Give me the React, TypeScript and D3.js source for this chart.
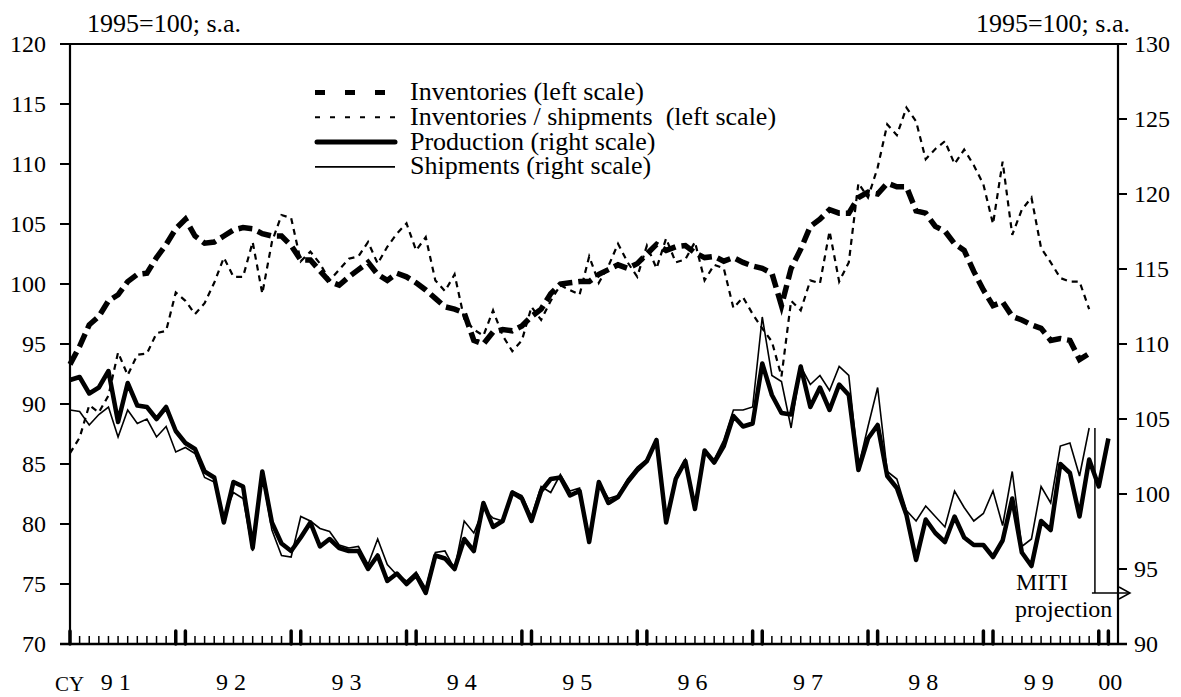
import React from "react";
import * as d3 from "d3";

const W = 1181;
const H = 697;

// Monthly data, Jan 1991 onwards (index 0 = first month)
const yearLabels = ["9 1", "9 2", "9 3", "9 4", "9 5", "9 6", "9 7", "9 8", "9 9", "00"];
const leftTicks = [70, 75, 80, 85, 90, 95, 100, 105, 110, 115, 120];
const rightTicks = [90, 95, 100, 105, 110, 115, 120, 125, 130];

// Inventories (left scale)
const inventories = [
  93.3, 94.8, 96.6, 97.3, 98.6, 99.1, 100.2, 100.8, 100.9, 102.2,
  103.3, 104.6, 105.4, 104.0, 103.4, 103.5, 104.0, 104.5, 104.7, 104.6,
  104.2, 104.0, 104.0, 103.2, 102.0, 102.0, 101.1, 100.2, 99.9, 100.6,
  101.2, 101.8, 100.8, 100.3, 100.9, 100.6, 100.1, 99.5, 98.8, 98.1,
  97.9, 97.6, 95.3, 95.0, 96.0, 96.2, 96.1, 96.5, 97.3, 97.9,
  99.2, 100.0, 100.1, 100.2, 100.2, 100.8, 101.2, 101.6, 101.3, 101.7,
  102.5, 103.3, 102.8, 103.1, 103.2, 102.6, 102.2, 102.3, 101.9, 102.2,
  101.8, 101.5, 101.3, 100.9, 98.2, 101.3, 102.9, 104.8, 105.4, 106.2,
  105.9, 105.9, 107.2, 107.65, 107.5, 108.4, 108.1, 108.1, 106.1, 105.9,
  104.8, 104.4, 103.35, 102.8, 101.05, 99.5, 98.2, 98.5, 97.3, 97.0,
  96.6, 96.3, 95.3, 95.45, 95.3, 93.7, 94.2,
];

// Inventories / shipments (left scale)
const invShipRatio = [
  85.9, 87.2, 89.9, 89.3, 90.7, 94.3, 92.4, 94.1, 94.2, 95.9,
  96.1, 99.3, 98.6, 97.5, 98.4, 100.1, 102.2, 100.6, 100.6, 103.5,
  99.2, 103.5, 105.75, 105.5, 101.9, 102.7, 101.7, 100.3, 101.2, 102.1,
  102.3, 103.5, 101.7, 103.1, 104.2, 105.05, 102.8, 103.9, 100.3, 99.4,
  100.8, 97.1, 96.2, 95.7, 97.8, 95.7, 94.4, 95.3, 98.1, 97.0,
  98.6, 99.9, 99.5, 99.1, 102.3, 100.1, 101.5, 103.35, 101.8, 100.6,
  103.2, 101.3, 103.8, 101.8, 102.05, 103.5, 100.3, 101.6, 101.3, 98.0,
  98.9, 97.5, 96.3, 95.2, 92.3, 98.6, 97.8, 100.3, 100.05, 104.4,
  100.2, 101.8, 108.4, 107.2, 109.7, 113.3, 112.4, 114.7, 113.55, 110.4,
  111.25, 111.9, 110.0, 111.2, 109.9, 108.3, 105.0, 110.2, 104.1, 106.2,
  107.2, 103.0, 101.8, 100.5, 100.2, 100.2, 97.9,
];

// Production (right scale)
const production = [
  107.6, 107.8, 106.7, 107.1, 108.2, 104.8, 107.4, 105.9, 105.8, 105.0,
  105.8, 104.2, 103.4, 103.0, 101.5, 101.1, 98.1, 100.8, 100.5, 96.4,
  101.5, 98.1, 96.7, 96.2, 97.1, 98.1, 96.5, 97.0, 96.4, 96.2,
  96.2, 95.0, 95.9, 94.2, 94.7, 94.0, 94.6, 93.4, 95.9, 95.7,
  95.0, 97.0, 96.2, 99.4, 97.8, 98.2, 100.1, 99.7, 98.2, 100.2,
  101.0, 101.1, 99.9, 100.2, 96.8, 100.8, 99.4, 99.8, 100.8, 101.6,
  102.2, 103.6, 98.1, 101.0, 102.2, 99.0, 102.9, 102.1, 103.2, 105.2,
  104.5, 104.7, 108.7, 106.6, 105.4, 105.3, 108.5, 105.8, 107.1, 105.6,
  107.3, 106.6, 101.6, 103.7, 104.6, 101.2, 100.4, 98.6, 95.6, 98.3,
  97.4, 96.8, 98.5, 97.1, 96.6, 96.6, 95.8, 96.9, 99.7, 96.1,
  95.2, 98.2, 97.6, 102.0, 101.4, 98.5, 102.3, 100.5, 103.7,
];

// Shipments (right scale)
const shipments = [
  105.6, 105.5, 104.6, 105.3, 105.8, 103.8, 105.6, 104.7, 105.0, 103.8,
  104.5, 102.8, 103.1, 102.7, 101.1, 100.8, 98.5, 100.1, 99.7, 96.2,
  101.3, 97.6, 95.9, 95.8, 98.5, 98.2, 97.7, 97.5, 96.6, 96.4,
  96.5, 95.3, 97.0, 95.3, 94.6, 94.2, 94.8, 93.7, 96.1, 96.2,
  95.0, 98.2, 97.4, 99.0, 98.4, 98.2, 100.2, 99.9, 98.5, 100.5,
  100.1, 101.3, 100.2, 100.4, 97.0, 100.8, 99.7, 99.9, 101.0, 101.8,
  102.3, 103.6, 98.1, 101.2, 102.3, 99.1, 102.9, 102.3, 103.6, 105.6,
  105.6, 105.8, 111.8, 107.9, 107.5, 104.4, 108.5, 107.3, 107.9, 106.9,
  108.5, 107.9, 101.8, 104.5, 107.1, 101.5, 101.0, 98.9, 98.2, 99.2,
  98.5, 97.8, 100.2, 99.1, 98.2, 98.7, 100.2, 97.9, 101.5, 96.5,
  97.0, 100.5, 99.4, 103.2, 103.4, 101.2, 104.4,
];

const legendItems = [
  { label: "Inventories (left scale)", kind: "inv" },
  { label: "Inventories / shipments  (left scale)", kind: "ratio" },
  { label: "Production (right scale)", kind: "prod" },
  { label: "Shipments (right scale)", kind: "ship" },
];

const FONT = "Liberation Serif";
const tStyle = (size: number): React.CSSProperties => ({
  fontFamily: FONT,
  fontSize: size + "px",
  whiteSpace: "pre",
});

export default function App() {
  const nTickIntervals = 109;
  const x = d3.scaleLinear().domain([0, nTickIntervals]).range([70, 1118]);
  const yL = d3.scaleLinear().domain([70, 120]).range([644, 44]);
  const yR = d3.scaleLinear().domain([90, 130]).range([644, 44]);

  const lineL = d3
    .line<number>()
    .x((_, i) => x(i))
    .y((d) => yL(d));
  const lineR = d3
    .line<number>()
    .x((_, i) => x(i))
    .y((d) => yR(d));

  const monthTicks = d3.range(0, nTickIntervals + 1);
  const isMajor = (i: number) =>
    i === 0 || (i > 0 && i < nTickIntervals && (i % 12 === 11 || i % 12 === 0));

  const yearPos = (k: number) => (k < 9 ? 12 * k + 4.75 : 108.2);

  const projX = x(106.6);

  return (
    <svg
      width={W}
      height={H}
      style={{ position: "absolute", left: 0, top: 0, background: "#fff", fontFamily: FONT }}
    >
      <rect x={0} y={0} width={W} height={H} fill="#fff" />

      {/* series */}
      <path d={lineR(shipments) || ""} fill="none" stroke="#000" strokeWidth={1.6} />
      <path d={lineR(production) || ""} fill="none" stroke="#000" strokeWidth={4.5} strokeLinejoin="round" />
      <path d={lineL(invShipRatio) || ""} fill="none" stroke="#000" strokeWidth={2.2} strokeDasharray="6,5" />
      <path d={lineL(inventories) || ""} fill="none" stroke="#000" strokeWidth={5.5} strokeDasharray="14,6" />

      {/* frame */}
      <line x1={60} x2={1127} y1={yL(120)} y2={yL(120)} stroke="#000" strokeWidth={2} />
      <line x1={60} x2={1127} y1={yL(70)} y2={yL(70)} stroke="#000" strokeWidth={2.5} />
      <line x1={x(0)} x2={x(0)} y1={yL(120)} y2={yL(70)} stroke="#000" strokeWidth={2.2} />
      <line
        x1={x(nTickIntervals)}
        x2={x(nTickIntervals)}
        y1={yL(120)}
        y2={yL(70)}
        stroke="#000"
        strokeWidth={2.2}
      />

      {/* left axis */}
      {leftTicks.map((t) => (
        <g key={"l" + t}>
          <line x1={60} x2={70} y1={yL(t)} y2={yL(t)} stroke="#000" strokeWidth={2} />
          <text x={46} y={yL(t) + 8} textAnchor="end" style={tStyle(24)}>
            {t}
          </text>
        </g>
      ))}
      {/* right axis */}
      {rightTicks.map((t) => (
        <g key={"r" + t}>
          <line x1={1118} x2={1127} y1={yR(t)} y2={yR(t)} stroke="#000" strokeWidth={2} />
          <text x={1134} y={yR(t) + 8} textAnchor="start" style={tStyle(24)}>
            {t}
          </text>
        </g>
      ))}

      {/* month ticks */}
      {monthTicks.map((i) =>
        isMajor(i) ? (
          <line
            key={"m" + i}
            x1={x(i)}
            x2={x(i)}
            y1={644}
            y2={631}
            stroke="#000"
            strokeWidth={3.5}
            strokeLinecap="round"
          />
        ) : (
          <line key={"m" + i} x1={x(i)} x2={x(i)} y1={644} y2={636} stroke="#000" strokeWidth={1.5} />
        )
      )}

      {/* year labels */}
      {yearLabels.map((lab, k) => (
        <text key={"y" + k} x={x(yearPos(k))} y={690} textAnchor="middle" style={tStyle(24)}>
          {lab}
        </text>
      ))}
      <text x={55} y={691} style={tStyle(21)}>
        CY
      </text>

      {/* unit labels */}
      <text x={87} y={32} style={tStyle(26)}>
        1995=100; s.a.
      </text>
      <text x={1130} y={32} textAnchor="end" style={tStyle(26)}>
        1995=100; s.a.
      </text>

      {/* legend */}
      {legendItems.map((it, k) => {
        const y = 92.5 + k * 24.8;
        let sample;
        if (it.kind === "inv")
          sample = <line x1={315} x2={388} y1={y} y2={y} stroke="#000" strokeWidth={5} strokeDasharray="10,20" />;
        else if (it.kind === "ratio")
          sample = <line x1={315} x2={396} y1={y} y2={y} stroke="#000" strokeWidth={2} strokeDasharray="5,10" />;
        else if (it.kind === "prod")
          sample = <line x1={317} x2={395} y1={y} y2={y} stroke="#000" strokeWidth={5} strokeLinecap="round" />;
        else sample = <line x1={315} x2={395} y1={y} y2={y} stroke="#000" strokeWidth={1.8} />;
        return (
          <g key={"lg" + k}>
            {sample}
            <text x={410} y={y + 7.5} style={tStyle(26)}>
              {it.label}
            </text>
          </g>
        );
      })}

      {/* MITI projection marker */}
      <line
        x1={projX}
        x2={projX}
        y1={yR(shipments[shipments.length - 1])}
        y2={593}
        stroke="#000"
        strokeWidth={1.5}
      />
      <line x1={projX - 3} x2={1130} y1={593} y2={593} stroke="#000" strokeWidth={1.5} />
      <polyline points={`1119,587 1130,593 1119,599`} fill="none" stroke="#000" strokeWidth={1.5} />
      <text x={1016} y={590} style={tStyle(24)}>
        MITI
      </text>
      <text x={1015} y={617} style={tStyle(24)}>
        projection
      </text>
    </svg>
  );
}
